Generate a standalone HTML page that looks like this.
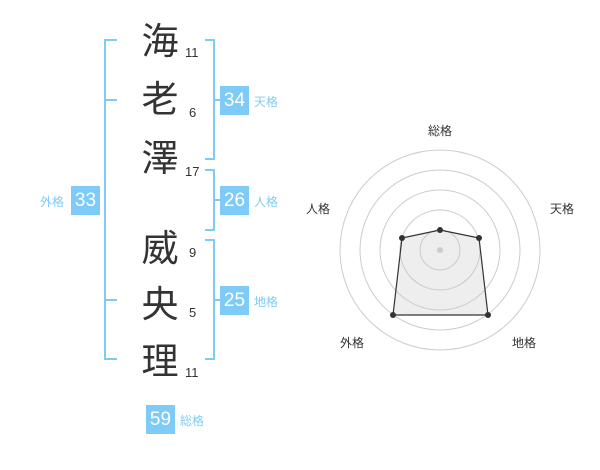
<!DOCTYPE html>
<html><head><meta charset="utf-8"><style>
body{margin:0;width:600px;height:470px;background:#fff;position:relative;overflow:hidden;font-family:"Liberation Sans","Noto Sans CJK JP",sans-serif}
.k{position:absolute;font-size:37px;color:#333;width:40px;text-align:center;line-height:40px;left:140px}
.n{position:absolute;font-size:13px;color:#333;line-height:14px}
.b{position:absolute;width:29px;height:29px;background:#7fcbf8;color:#fff;font-size:19px;line-height:29px;text-align:center}
.l{position:absolute;font-size:12px;color:#7fcbf8;line-height:14px}
.v{position:absolute;width:2px;background:#7fcbf8}
.h{position:absolute;height:2px;background:#7fcbf8;width:10px}
</style></head><body>
<div class="k" style="top:22px">海</div>
<div class="k" style="top:80px">老</div>
<div class="k" style="top:139px">澤</div>
<div class="k" style="top:229px">威</div>
<div class="k" style="top:285px">央</div>
<div class="k" style="top:342px">理</div>
<div class="n" style="left:185px;top:46px">11</div>
<div class="n" style="left:189px;top:106px">6</div>
<div class="n" style="left:185px;top:165px">17</div>
<div class="n" style="left:189px;top:246px">9</div>
<div class="n" style="left:189px;top:306px">5</div>
<div class="n" style="left:185px;top:366px">11</div>

<div class="v" style="left:104px;top:40px;height:320px"></div>
<div class="h" style="left:104px;top:39px;width:13px"></div>
<div class="h" style="left:104px;top:99px;width:13px"></div>
<div class="h" style="left:104px;top:299px;width:13px"></div>
<div class="h" style="left:104px;top:358px;width:13px"></div>

<div class="v" style="left:213px;top:40px;height:120px"></div>
<div class="h" style="left:205px;top:39px"></div>
<div class="h" style="left:205px;top:158px"></div>
<div class="h" style="left:213px;top:99px;width:8px"></div>

<div class="v" style="left:213px;top:170px;height:61px"></div>
<div class="h" style="left:205px;top:169px"></div>
<div class="h" style="left:205px;top:229px"></div>
<div class="h" style="left:213px;top:199px;width:8px"></div>

<div class="v" style="left:213px;top:240px;height:120px"></div>
<div class="h" style="left:205px;top:239px"></div>
<div class="h" style="left:205px;top:358px"></div>
<div class="h" style="left:213px;top:299px;width:8px"></div>

<div class="b" style="left:220px;top:86px">34</div><div class="l" style="left:254px;top:95px">天格</div>
<div class="b" style="left:220px;top:186px">26</div><div class="l" style="left:254px;top:195px">人格</div>
<div class="b" style="left:220px;top:286px">25</div><div class="l" style="left:254px;top:295px">地格</div>
<div class="b" style="left:71px;top:186px">33</div><div class="l" style="left:40px;top:195px">外格</div>
<div class="b" style="left:146px;top:405px">59</div><div class="l" style="left:180px;top:414px">総格</div>

<svg width="600" height="470" style="position:absolute;left:0;top:0">
<g fill="none" stroke="#ccc" stroke-width="1">
<circle cx="440" cy="250" r="100"/><circle cx="440" cy="250" r="80"/><circle cx="440" cy="250" r="60"/><circle cx="440" cy="250" r="40"/><circle cx="440" cy="250" r="20"/>
</g>
<polygon points="440,230 479,238 488,315 393,315 402,238" fill="rgba(200,200,200,0.3)" stroke="#333" stroke-width="1.2"/>
<circle cx="440" cy="250" r="3" fill="#ccc"/>
<g fill="#333"><circle cx="440" cy="230" r="3"/><circle cx="479" cy="238" r="3"/><circle cx="488" cy="315" r="3"/><circle cx="393" cy="315" r="3"/><circle cx="402" cy="238" r="3"/></g>
<g font-size="12" fill="#333" text-anchor="middle" font-family="Liberation Sans,Noto Sans CJK JP,sans-serif">
<text x="440" y="135">総格</text><text x="562" y="213">天格</text><text x="524" y="347">地格</text><text x="352" y="347">外格</text><text x="318" y="213">人格</text>
</g>
</svg>
</body></html>
